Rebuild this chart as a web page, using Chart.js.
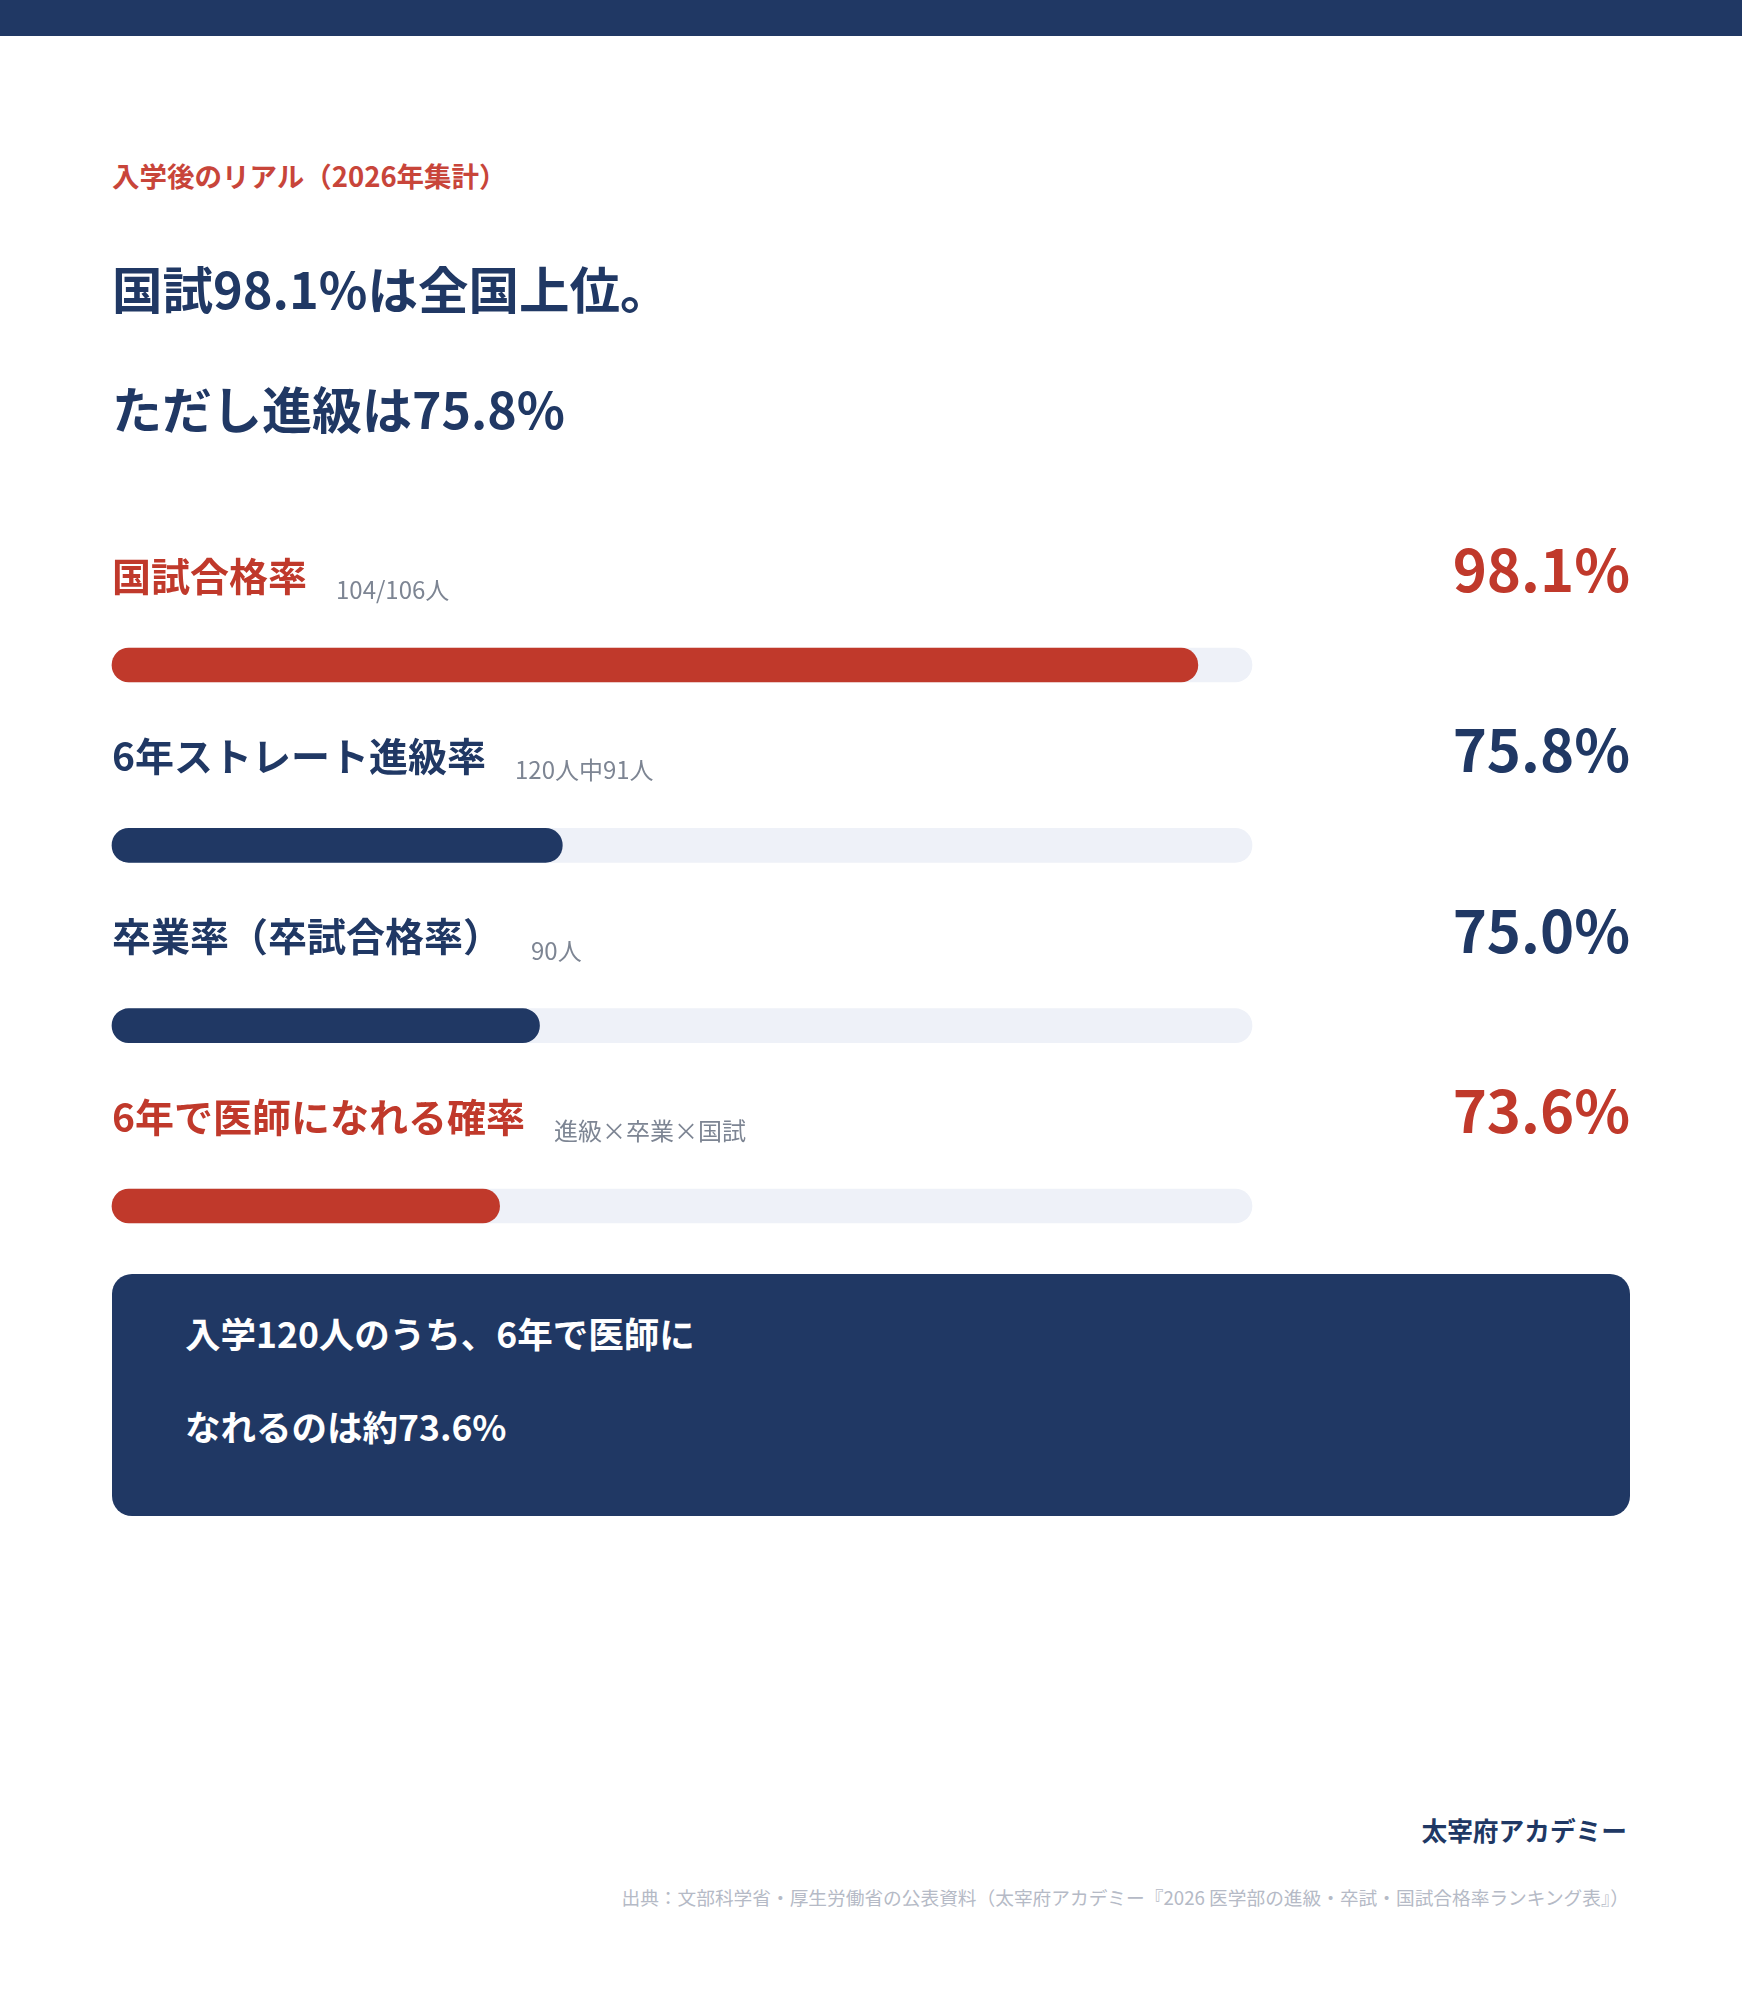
<!DOCTYPE html>
<html lang="ja">
<head>
<meta charset="utf-8">
<title>入学後のリアル（2026年集計）</title>
<script src="https://cdn.jsdelivr.net/npm/chart.js@4.4.1/dist/chart.umd.min.js"></script>
<style>
  html, body { margin: 0; padding: 0; background: #fff; }
  body {
    width: 1742px; height: 2000px; position: relative; overflow: hidden;
    font-family: "Noto Sans CJK JP", "Noto Sans", sans-serif;
  }
  .topbar { position: absolute; left: 0; top: 0; width: 1742px; height: 36px; background: #203864; }
  .txt { position: absolute; white-space: nowrap; line-height: 1; }
  #kicker { left: 112px; top: 162px; font-size: 27.5px; font-weight: 700; color: #c8453a; }
  .headline { left: 112px; font-weight: 700; color: #203864; }
  #h1 { top: 262px; font-size: 50.5px; }
  #h2 { top: 382px; font-size: 50px; }
  #chartWrap { position: absolute; left: 0; top: 520px; width: 1742px; height: 740px; }
  .box {
    position: absolute; left: 112px; top: 1274px; width: 1518px; height: 242px;
    background: #203864; border-radius: 20px;
  }
  .boxline { left: 185px; font-size: 35.5px; font-weight: 700; color: #fff; }
  #b1 { top: 1315px; }
  #b2 { top: 1408px; }
  #brand { right: 115px; top: 1817px; font-size: 25.7px; font-weight: 700; color: #203864; }
  #source { right: 113px; top: 1888px; font-size: 18.7px; color: #b5bac6; }
</style>
</head>
<body>
<div class="topbar"></div>
<div class="txt" id="kicker">入学後のリアル（2026年集計）</div>
<div class="txt headline" id="h1">国試98.1%は全国上位。</div>
<div class="txt headline" id="h2">ただし進級は75.8%</div>

<div id="chartWrap"><canvas id="rateChart" width="1742" height="740"></canvas></div>

<div class="box"></div>
<div class="txt boxline" id="b1">入学120人のうち、6年で医師に</div>
<div class="txt boxline" id="b2">なれるのは約73.6%</div>

<div class="txt" id="brand">太宰府アカデミー</div>
<div class="txt" id="source">出典：文部科学省・厚生労働省の公表資料（太宰府アカデミー『2026 医学部の進級・卒試・国試合格率ランキング表』）</div>

<script>
// データ
const categories = ['国試合格率', '6年ストレート進級率', '卒業率（卒試合格率）', '6年で医師になれる確率'];
const subLabels = ['104/106人', '120人中91人', '90人', '進級×卒業×国試'];
const rates = [98.1, 75.8, 75.0, 73.6];
const trackValues = [100, 100, 100, 100];
const axisMin = 60;
const axisMax = 100;

const RED = '#c0392b';
const NAVY = '#203864';
const rowColors = [RED, NAVY, NAVY, RED];
const FONT = '"Noto Sans CJK JP", "Noto Sans", sans-serif';

// ラベルと数値を描くプラグイン
const rowText = {
  id: 'rowText',
  afterDatasetsDraw(chart) {
    const ctx = chart.ctx;
    const yScale = chart.scales.y;
    const left = chart.chartArea.left;
    ctx.save();
    ctx.textBaseline = 'middle';
    categories.forEach((cat, i) => {
      const y = yScale.getPixelForValue(i);
      ctx.fillStyle = rowColors[i];
      ctx.textAlign = 'left';
      ctx.font = '700 39px ' + FONT;
      ctx.fillText(cat, left, y - 89);
      const w = ctx.measureText(cat).width;

      ctx.fillStyle = '#7d8593';
      ctx.font = '400 24px ' + FONT;
      ctx.fillText(subLabels[i], left + w + 29, y - 75);

      ctx.fillStyle = rowColors[i];
      ctx.textAlign = 'right';
      ctx.font = '700 58px ' + FONT;
      ctx.fillText(rates[i].toFixed(1) + '%', 1630, y - 95);
    });
    ctx.restore();
  }
};

const barStyle = {
  barThickness: 34,
  borderRadius: 17,
  borderSkipped: false,
  grouped: false,
  clip: false,
  base: axisMin
};

const config = {
  type: 'bar',
  data: {
    labels: categories,
    datasets: [
      Object.assign({ label: 'rate', data: rates, backgroundColor: rowColors, order: 0 }, barStyle),
      Object.assign({ label: 'track', data: trackValues, backgroundColor: '#eef1f8', order: 1 }, barStyle)
    ]
  },
  options: {
    indexAxis: 'y',
    responsive: false,
    animation: false,
    layout: { padding: { left: 112, right: 490, top: 145, bottom: 54 } },
    scales: {
      x: { min: axisMin, max: axisMax, display: false, grid: { display: false } },
      y: { offset: false, display: false, grid: { display: false } }
    },
    plugins: {
      legend: { display: false },
      tooltip: { enabled: false }
    }
  },
  plugins: [rowText]
};

document.fonts.ready.then(() => {
  new Chart(document.getElementById('rateChart'), config);
});
</script>
</body>
</html>
